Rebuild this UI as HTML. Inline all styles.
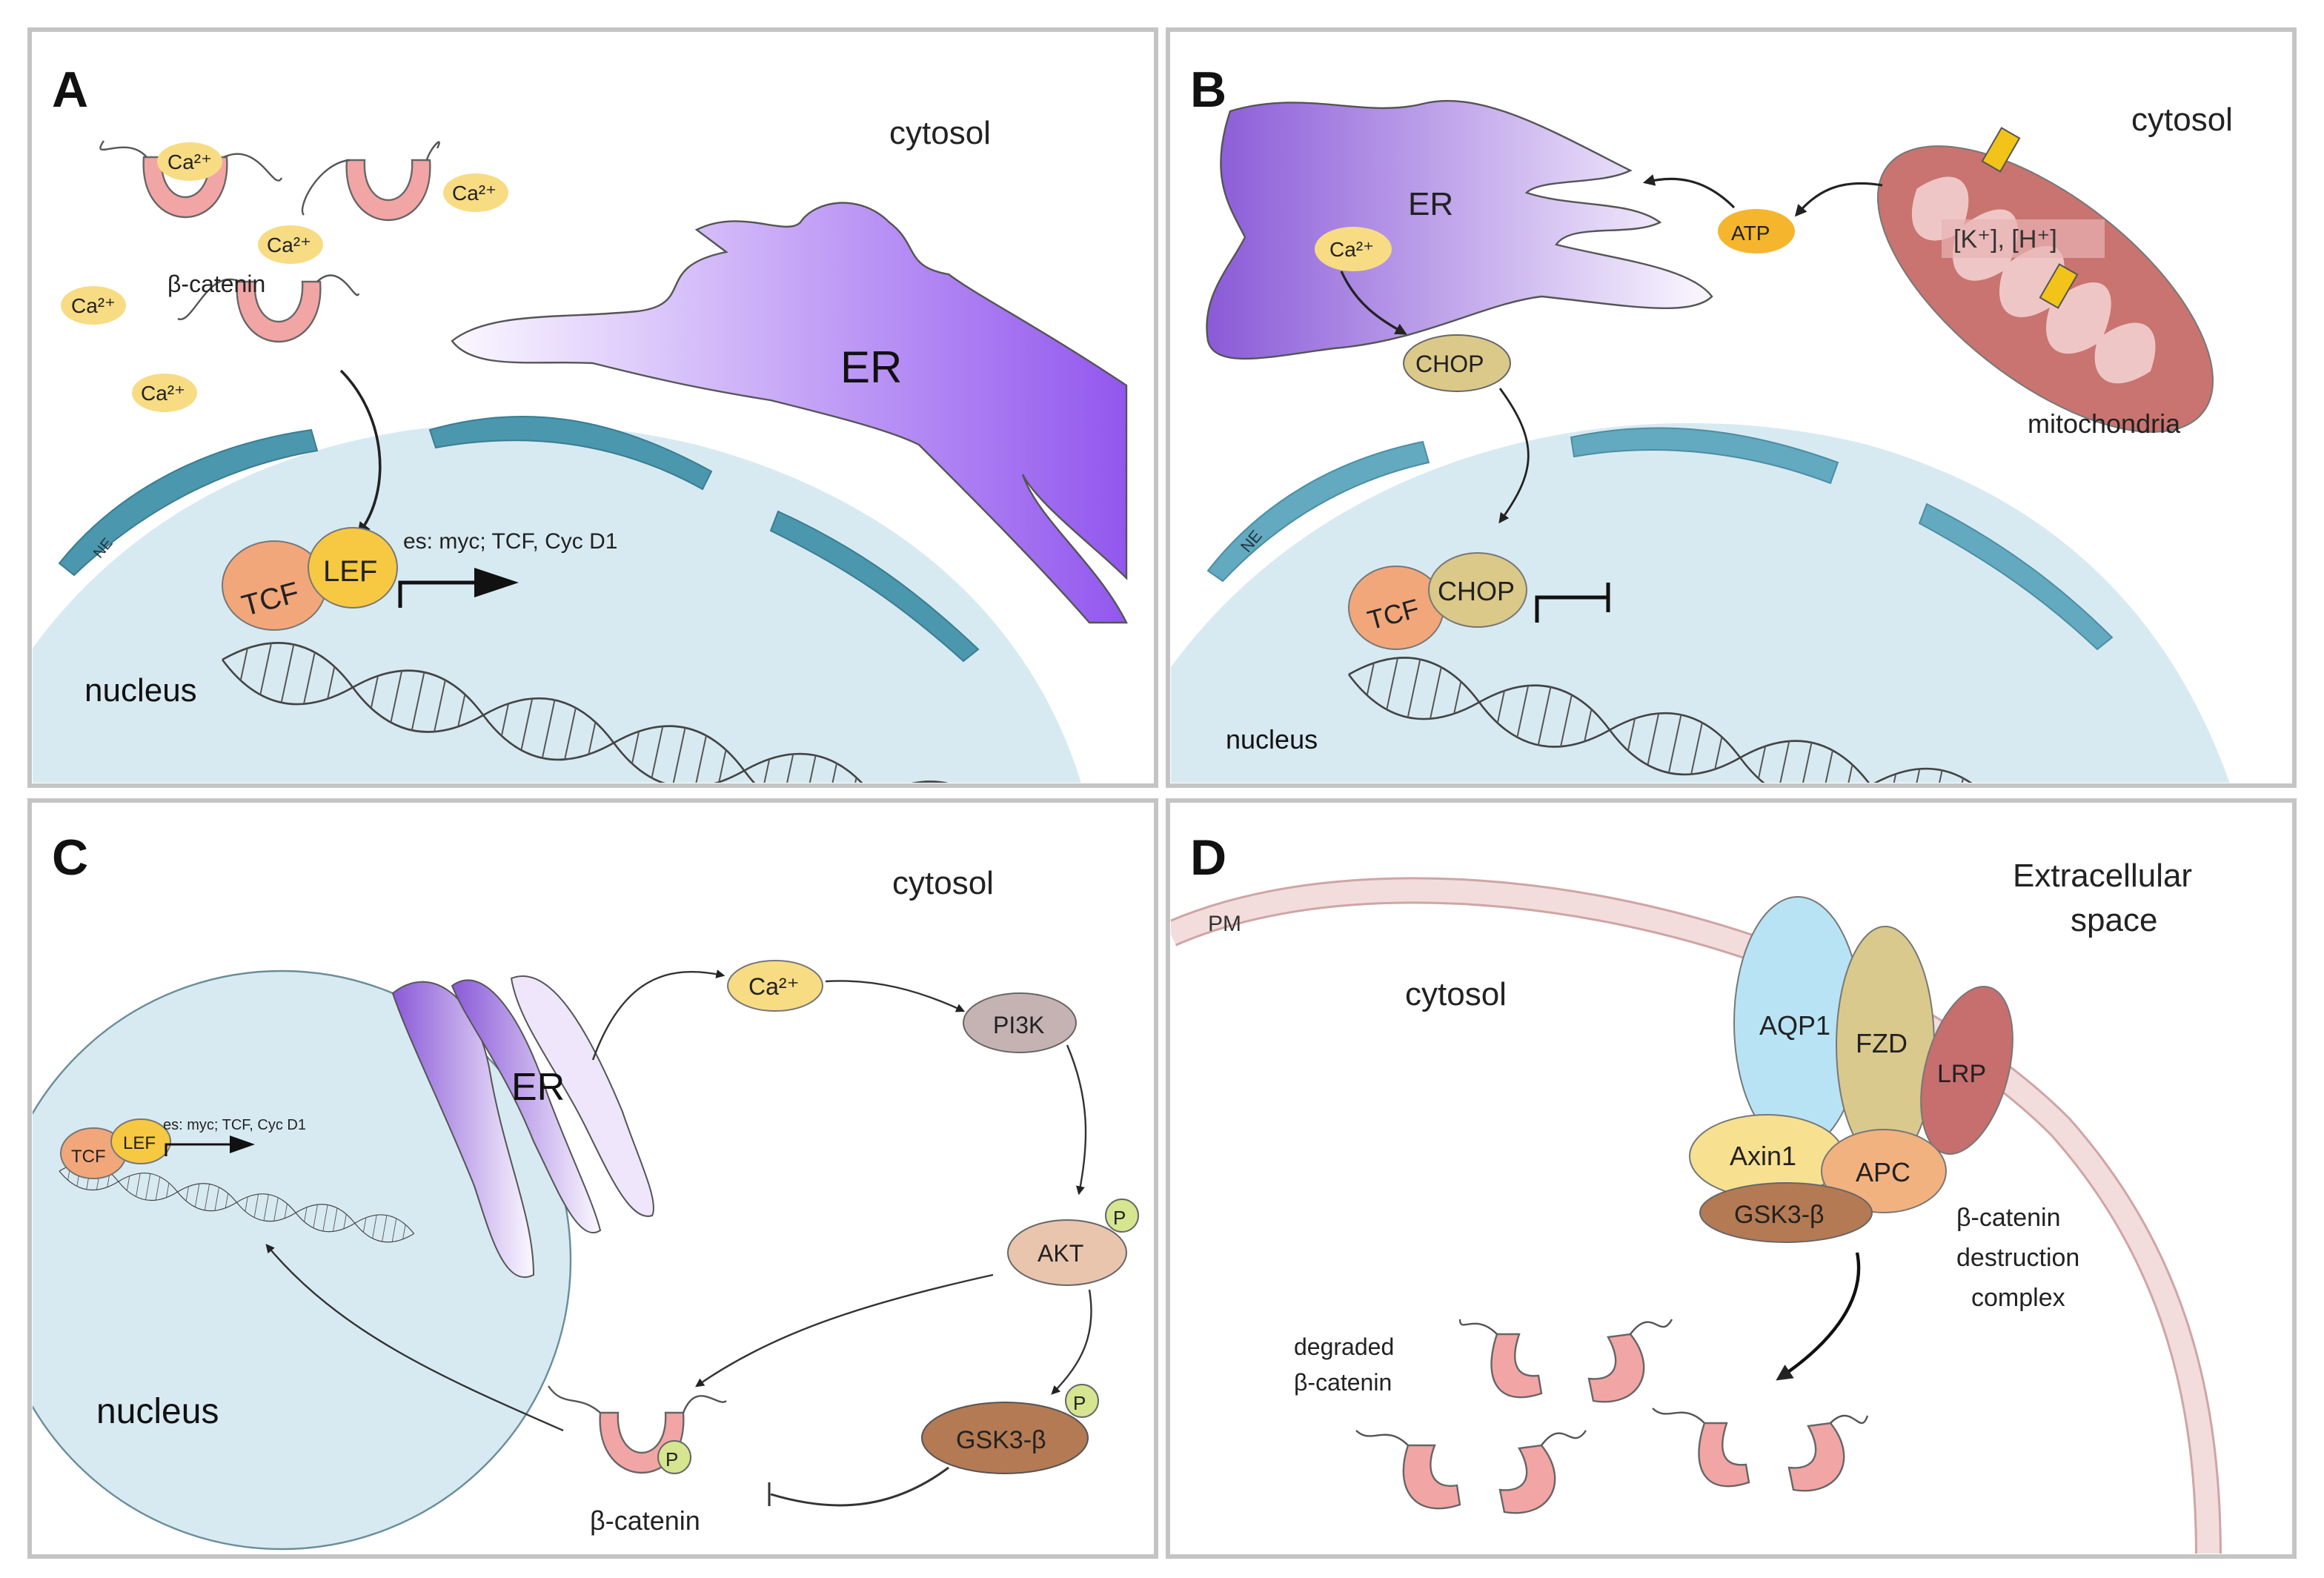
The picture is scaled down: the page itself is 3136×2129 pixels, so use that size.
<!DOCTYPE html>
<html><head><meta charset="utf-8"><style>
html,body{margin:0;padding:0;background:#fff;}
svg{display:block;}
text{font-family:"Liberation Sans",sans-serif;}
</style></head><body>
<svg width="3136" height="2129" viewBox="0 0 1568 1064.5" xmlns="http://www.w3.org/2000/svg">
<defs>
<linearGradient id="erA" x1="0" y1="0" x2="1" y2="0"><stop offset="0" stop-color="#fbf8ff"/><stop offset="1" stop-color="#9257ee"/></linearGradient>
<linearGradient id="erB" x1="0" y1="0" x2="1" y2="0"><stop offset="0" stop-color="#8a5ad8"/><stop offset="1" stop-color="#fbf8ff"/></linearGradient>
<linearGradient id="erC" x1="0" y1="0" x2="1" y2="0"><stop offset="0" stop-color="#8a5ad8"/><stop offset="1" stop-color="#fbf8ff"/></linearGradient>
<clipPath id="cA"><rect x="22" y="22" width="756" height="506"/></clipPath>
<clipPath id="cB"><rect x="790" y="22" width="756" height="506"/></clipPath>
<clipPath id="cC"><rect x="22" y="542" width="756" height="506"/></clipPath>
<clipPath id="cD"><rect x="790" y="542" width="756" height="506"/></clipPath>
<marker id="ah" viewBox="0 0 10 10" refX="8" refY="5" markerWidth="5" markerHeight="5" orient="auto"><path d="M0,0L10,5L0,10z" fill="#222"/></marker>
<g id="bcat"><path d="M-28,-22 C-32,32 32,32 28,-22 L16,-22 C18,14 -18,14 -16,-22 Z" fill="#f2a5a5" stroke="#666" stroke-width="1.2"/></g>
<g id="rung"><path d="M60,-11V11M75,-17.8V17.8M90,-20V20M105,-17.8V17.8M120,-11V11" stroke="#555" stroke-width="1"/></g>
<g id="dna">
<path d="M0,0 Q45,-40 90,0 T180,0 T270,0 T360,0 T450,0 T540,0" fill="none" stroke="#444" stroke-width="1.3"/>
<path d="M0,0 Q45,40 90,0 T180,0 T270,0 T360,0 T450,0 T540,0" fill="none" stroke="#444" stroke-width="1.3"/>
<use href="#rung" x="-45"/><use href="#rung" x="45"/><use href="#rung" x="135"/><use href="#rung" x="225"/><use href="#rung" x="315"/><use href="#rung" x="405"/>
</g>
</defs>

<g fill="none" stroke="#c4c4c4" stroke-width="3">
<rect x="20" y="20" width="760" height="510"/><rect x="788" y="20" width="760" height="510"/>
<rect x="20" y="540" width="760" height="510"/><rect x="788" y="540" width="760" height="510"/>
</g>

<!-- PANEL A -->
<g clip-path="url(#cA)">
<path d="M20,440 C120,300 300,260 470,300 C620,340 700,430 730,530 L20,530 Z" fill="#d8eaf1"/>
<g fill="#4b97ad" stroke="#3a7d92" stroke-width="1">
<path d="M40,380 C80,330 140,300 210,290 L214,304 C150,315 95,345 50,388 Z"/>
<path d="M290,290 C360,270 420,285 480,318 L474,330 C420,300 360,290 294,302 Z"/>
<path d="M525,345 C580,370 620,400 660,438 L650,446 C610,410 575,385 520,358 Z"/>
</g>
<text x="60" y="375" font-size="10" fill="#234" transform="rotate(-50 66 368)">NE</text>
<path d="M305,230 C330,210 380,215 430,210 C470,205 440,180 490,170 L470,155 C500,140 530,160 540,150 C550,135 580,130 600,150 C620,165 610,180 640,185 C660,200 700,220 760,260 L760,390 C740,370 700,340 690,320 C700,350 740,380 760,420 L735,420 C700,380 660,340 620,300 C600,290 560,280 520,270 C470,262 440,255 400,245 C360,243 320,250 305,230 Z" fill="url(#erA)" stroke="#555" stroke-width="1.2"/>
<text x="567" y="258" font-size="30" fill="#111">ER</text>
<text x="600" y="97" font-size="22" fill="#222">cytosol</text>
<use href="#bcat" x="125" y="128"/><use href="#bcat" x="262" y="130"/><use href="#bcat" x="188" y="212"/>
<g fill="none" stroke="#555" stroke-width="1.2">
<path d="M99,106 C85,90 60,110 70,95"/><path d="M151,106 C175,95 185,130 190,120"/>
<path d="M236,108 C215,110 200,140 205,145"/><path d="M288,108 C290,100 300,90 295,100"/>
<path d="M162,190 C140,180 130,220 120,215"/><path d="M214,190 C230,175 240,205 242,198"/>
</g>
<g fill="#f7dc84"><ellipse cx="128" cy="109" rx="22" ry="13"/><ellipse cx="321" cy="130" rx="22" ry="13"/><ellipse cx="196" cy="165" rx="22" ry="13"/><ellipse cx="63" cy="206" rx="22" ry="13"/><ellipse cx="111" cy="265" rx="22" ry="13"/></g>
<g font-size="14" fill="#222"><text x="113" y="114">Ca²⁺</text><text x="305" y="135">Ca²⁺</text><text x="180" y="170">Ca²⁺</text><text x="48" y="211">Ca²⁺</text><text x="95" y="270">Ca²⁺</text></g>
<text x="113" y="197" font-size="16" fill="#222">β-catenin</text>
<path d="M230,250 C260,280 265,330 242,360" fill="none" stroke="#222" stroke-width="1.8" marker-end="url(#ah)"/>
<g transform="translate(150,445) rotate(12)"><use href="#dna"/></g>
<ellipse cx="185" cy="395" rx="35" ry="30" fill="#f2a77a" stroke="#777"/>
<ellipse cx="238" cy="383" rx="30" ry="27" fill="#f7c842" stroke="#777"/>
<text x="162" y="410" font-size="20" fill="#222" transform="rotate(-15 185 400)">TCF</text>
<text x="218" y="392" font-size="20" fill="#222">LEF</text>
<path d="M270,410 L270,393 L330,393" fill="none" stroke="#111" stroke-width="2.5"/><path d="M320,383 L350,393 L320,403 Z" fill="#111"/>
<text x="272" y="370" font-size="15" fill="#222">es: myc; TCF, Cyc D1</text>
<text x="57" y="473" font-size="22" fill="#111">nucleus</text>
</g>
<text x="35" y="72" font-size="34" font-weight="bold" fill="#111">A</text>

<!-- PANEL B -->
<g clip-path="url(#cB)">
<path d="M790,450 C900,300 1100,260 1260,300 C1400,340 1470,430 1505,530 L790,530 Z" fill="#d8eaf1"/>
<g fill="#63a9bf" stroke="#4b8ea3" stroke-width="1">
<path d="M815,385 C850,340 900,310 960,298 L964,312 C905,325 860,355 825,392 Z"/>
<path d="M1060,295 C1120,282 1180,290 1240,312 L1235,326 C1180,305 1120,298 1062,308 Z"/>
<path d="M1300,340 C1350,365 1390,395 1425,430 L1415,438 C1380,405 1345,380 1295,353 Z"/>
</g>
<text x="835" y="372" font-size="11" fill="#234" transform="rotate(-50 840 365)">NE</text>
<path d="M830,75 C880,60 920,80 960,70 C1000,60 1050,90 1100,115 C1080,125 1040,120 1030,130 C1060,140 1100,135 1120,150 C1100,160 1060,150 1050,165 C1090,175 1140,180 1155,200 C1140,215 1090,205 1040,200 C1000,205 960,230 900,235 C860,240 820,250 815,230 C810,200 830,180 840,160 C830,140 815,120 830,75 Z" fill="url(#erB)" stroke="#555" stroke-width="1.2"/>
<text x="950" y="145" font-size="22" fill="#222">ER</text>
<ellipse cx="913" cy="168" rx="26" ry="15" fill="#f7dc84"/><text x="897" y="173" font-size="14" fill="#222">Ca²⁺</text>
<path d="M905,183 C915,205 930,215 948,225" fill="none" stroke="#222" stroke-width="1.6" marker-end="url(#ah)"/>
<ellipse cx="983" cy="245" rx="36" ry="19" fill="#dbc98a" stroke="#666"/><text x="955" y="251" font-size="16" fill="#222">CHOP</text>
<path d="M1012,262 C1040,300 1035,320 1012,352" fill="none" stroke="#222" stroke-width="1.4" marker-end="url(#ah)"/>
<g transform="translate(1380,195) rotate(38)"><ellipse rx="135" ry="62" fill="#c97470" stroke="#777"/>
<path d="M-110,0 C-100,-30 -80,-30 -70,0 C-60,-35 -40,-35 -30,0 C-20,-35 0,-35 10,0 C20,-35 40,-35 50,0 C60,-30 80,-30 90,0 C80,30 60,30 50,8 C40,35 20,35 10,8 C0,35 -20,35 -30,8 C-40,35 -60,35 -70,8 C-80,30 -100,30 -110,0 Z" fill="#f2cfcf" opacity="0.9"/></g>
<rect x="1310" y="148" width="110" height="26" fill="#e8b4b4" opacity="0.7"/>
<text x="1318" y="167" font-size="17" fill="#333">[K⁺], [H⁺]</text>
<rect x="1343" y="88" width="14" height="26" fill="#f2c318" stroke="#555" transform="rotate(30 1350 101)"/>
<rect x="1382" y="180" width="14" height="26" fill="#f2c318" stroke="#555" transform="rotate(30 1389 193)"/>
<text x="1368" y="292" font-size="18" fill="#222">mitochondria</text>
<text x="1438" y="88" font-size="22" fill="#222">cytosol</text>
<ellipse cx="1185" cy="156" rx="26" ry="15" fill="#f5b52c"/><text x="1168" y="162" font-size="14" fill="#222">ATP</text>
<path d="M1270,125 C1240,120 1225,130 1212,145" fill="none" stroke="#222" stroke-width="1.6" marker-end="url(#ah)"/>
<path d="M1170,140 C1150,120 1130,118 1110,123" fill="none" stroke="#222" stroke-width="1.6" marker-end="url(#ah)"/>
<g transform="translate(910,455) rotate(12)"><use href="#dna"/></g>
<ellipse cx="942" cy="410" rx="32" ry="28" fill="#f2a77a" stroke="#777"/>
<ellipse cx="997" cy="398" rx="33" ry="25" fill="#dbc98a" stroke="#777"/>
<text x="922" y="420" font-size="18" fill="#222" transform="rotate(-15 942 412)">TCF</text>
<text x="970" y="405" font-size="18" fill="#222">CHOP</text>
<path d="M1037,420 L1037,403 L1085,403 M1085,393 L1085,413" fill="none" stroke="#111" stroke-width="2.5"/>
<text x="827" y="505" font-size="18" fill="#111">nucleus</text>
</g>
<text x="803" y="72" font-size="34" font-weight="bold" fill="#111">B</text>

<!-- PANEL C -->
<g clip-path="url(#cC)">
<circle cx="190" cy="850" r="195" fill="#d8eaf1" stroke="#6a8e9a" stroke-width="1.2"/>
<path d="M265,670 C290,650 320,670 330,720 C340,780 360,820 360,860 C340,870 330,830 320,800 C300,750 275,700 265,670 Z" fill="url(#erC)" stroke="#555"/>
<path d="M305,665 C325,650 350,680 370,740 C385,780 400,810 405,830 C390,840 375,800 360,770 C340,720 315,690 305,665 Z" fill="url(#erC)" stroke="#555"/>
<path d="M345,660 C370,650 395,690 420,750 C430,780 445,810 440,820 C425,825 410,790 395,760 C375,720 350,690 345,660 Z" fill="#efe6fb" stroke="#555"/>
<text x="345" y="742" font-size="26" fill="#111">ER</text>
<g transform="translate(40,790) rotate(10) scale(0.45)"><use href="#dna"/></g>
<ellipse cx="63" cy="778" rx="22" ry="17" fill="#f2a77a" stroke="#777"/>
<ellipse cx="95" cy="770" rx="20" ry="15" fill="#f7c842" stroke="#777"/>
<text x="48" y="784" font-size="12" fill="#222">TCF</text><text x="83" y="775" font-size="12" fill="#222">LEF</text>
<path d="M112,780 L112,772 L160,772" fill="none" stroke="#111" stroke-width="1.5"/><path d="M155,766 L172,772 L155,778 Z" fill="#111"/>
<text x="110" y="762" font-size="10" fill="#222">es: myc; TCF, Cyc D1</text>
<text x="65" y="960" font-size="24" fill="#111">nucleus</text>
<text x="602" y="603" font-size="22" fill="#222">cytosol</text>
<path d="M400,715 C420,660 450,650 488,658" fill="none" stroke="#333" stroke-width="1.2" marker-end="url(#ah)"/>
<ellipse cx="523" cy="665" rx="32" ry="17" fill="#f7dc84" stroke="#777"/><text x="505" y="671" font-size="16" fill="#222">Ca²⁺</text>
<path d="M557,662 C590,660 620,668 650,682" fill="none" stroke="#333" stroke-width="1.2" marker-end="url(#ah)"/>
<ellipse cx="688" cy="690" rx="38" ry="20" fill="#c5b3b4" stroke="#666"/><text x="670" y="697" font-size="16" fill="#222">PI3K</text>
<path d="M720,705 C735,740 735,770 728,805" fill="none" stroke="#333" stroke-width="1.2" marker-end="url(#ah)"/>
<ellipse cx="720" cy="845" rx="40" ry="22" fill="#e9c5ae" stroke="#666"/><text x="700" y="851" font-size="16" fill="#222">AKT</text>
<circle cx="757" cy="820" r="11" fill="#d6e590" stroke="#666"/><text x="751" y="826" font-size="13" fill="#222">P</text>
<path d="M735,870 C740,900 730,920 710,940" fill="none" stroke="#333" stroke-width="1.2" marker-end="url(#ah)"/>
<ellipse cx="678" cy="970" rx="56" ry="24" fill="#b47a53" stroke="#555"/><text x="645" y="977" font-size="17" fill="#222">GSK3-β</text>
<circle cx="730" cy="945" r="11" fill="#d6e590" stroke="#666"/><text x="724" y="951" font-size="13" fill="#222">P</text>
<path d="M670,860 C580,880 520,900 470,935" fill="none" stroke="#333" stroke-width="1.2" marker-end="url(#ah)"/>
<path d="M640,990 C600,1020 560,1020 520,1008 M519,1000 L519,1016" fill="none" stroke="#333" stroke-width="1.5"/>
<g transform="translate(433,975)"><use href="#bcat"/></g>
<path d="M405,953 C390,940 380,950 370,935 M461,953 C470,930 485,950 490,945" fill="none" stroke="#555" stroke-width="1.2"/>
<circle cx="455" cy="983" r="11" fill="#d6e590" stroke="#666"/><text x="449" y="989" font-size="13" fill="#222">P</text>
<text x="398" y="1032" font-size="18" fill="#222">β-catenin</text>
<path d="M380,965 C300,930 230,900 180,840" fill="none" stroke="#333" stroke-width="1.2" marker-end="url(#ah)"/>
</g>
<text x="35" y="590" font-size="34" font-weight="bold" fill="#111">C</text>

<!-- PANEL D -->
<g clip-path="url(#cD)">
<path d="M790,630 C950,560 1250,620 1390,760 C1470,850 1490,950 1490,1050" fill="none" stroke="#cfa5a5" stroke-width="18"/>
<path d="M790,630 C950,560 1250,620 1390,760 C1470,850 1490,950 1490,1050" fill="none" stroke="#f3dcdc" stroke-width="15"/>
<text x="815" y="628" font-size="15" fill="#333">PM</text>
<text x="948" y="678" font-size="22" fill="#222">cytosol</text>
<text x="1358" y="598" font-size="22" fill="#222">Extracellular</text>
<text x="1397" y="628" font-size="22" fill="#222">space</text>
<ellipse cx="1213" cy="690" rx="43" ry="85" fill="#b8e3f5" stroke="#777"/>
<ellipse cx="1272" cy="705" rx="33" ry="80" fill="#d9c98c" stroke="#777"/>
<ellipse cx="1327" cy="722" rx="28" ry="58" fill="#c76e6e" stroke="#777" transform="rotate(15 1327 722)"/>
<ellipse cx="1192" cy="780" rx="52" ry="28" fill="#f7e190" stroke="#777"/>
<ellipse cx="1271" cy="790" rx="42" ry="28" fill="#f2b280" stroke="#777"/>
<ellipse cx="1205" cy="818" rx="58" ry="20" fill="#b47a53" stroke="#666"/>
<text x="1187" y="698" font-size="18" fill="#222">AQP1</text>
<text x="1252" y="710" font-size="18" fill="#222">FZD</text>
<text x="1307" y="730" font-size="17" fill="#222">LRP</text>
<text x="1167" y="786" font-size="18" fill="#222">Axin1</text>
<text x="1252" y="797" font-size="18" fill="#222">APC</text>
<text x="1170" y="825" font-size="17" fill="#222">GSK3-β</text>
<text x="1320" y="827" font-size="17" fill="#222">β-catenin</text>
<text x="1320" y="854" font-size="17" fill="#222">destruction</text>
<text x="1330" y="881" font-size="17" fill="#222">complex</text>
<path d="M1253,845 C1260,880 1230,910 1200,930" fill="none" stroke="#111" stroke-width="2.2" marker-end="url(#ah)"/>
<text x="873" y="914" font-size="16" fill="#222">degraded</text><text x="873" y="938" font-size="16" fill="#222">β-catenin</text>
<g fill="#f2a5a5" stroke="#666" stroke-width="1.2">
<path d="M1010,900 C1000,930 1010,950 1040,940 L1038,928 C1020,930 1020,915 1025,900 Z"/>
<path d="M1100,900 C1120,925 1105,950 1075,945 L1072,930 C1090,932 1095,920 1085,902 Z"/>
<path d="M950,975 C940,1005 955,1025 985,1015 L983,1002 C965,1005 962,990 968,975 Z"/>
<path d="M1040,975 C1060,1000 1045,1025 1015,1020 L1012,1005 C1030,1007 1035,995 1025,977 Z"/>
<path d="M1150,960 C1140,990 1150,1010 1180,1000 L1178,988 C1160,990 1160,975 1165,960 Z"/>
<path d="M1235,960 C1255,985 1240,1010 1210,1005 L1207,990 C1225,992 1230,980 1220,962 Z"/>
</g>
<path d="M1010,900 C995,885 985,900 985,890 M1100,900 C1115,880 1120,905 1128,890 M950,975 C935,960 925,975 915,965 M1040,975 C1055,955 1060,980 1070,965 M1150,960 C1135,945 1125,960 1115,950 M1235,960 C1250,945 1255,970 1260,955" fill="none" stroke="#555" stroke-width="1.2"/>
</g>
<text x="803" y="590" font-size="34" font-weight="bold" fill="#111">D</text>
</svg>
</body></html>
